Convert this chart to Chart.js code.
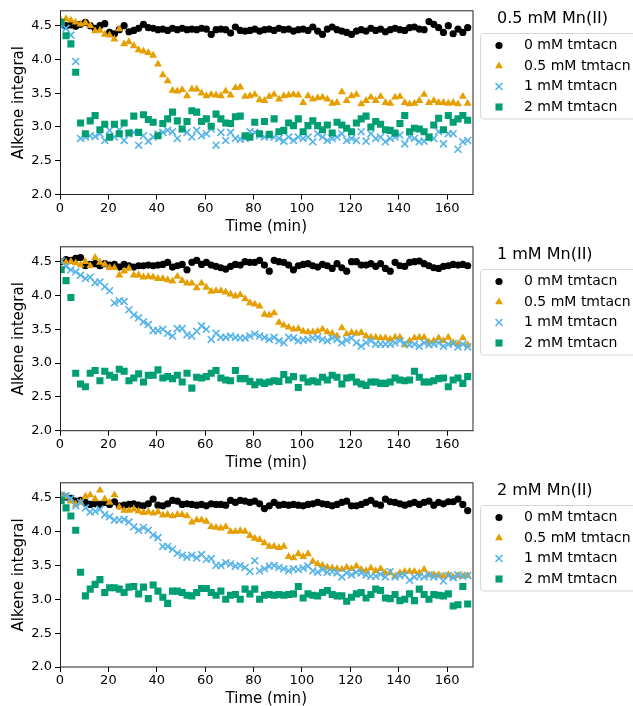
<!DOCTYPE html>
<html>
<head>
<meta charset="utf-8">
<title>Alkene integral</title>
<script src="https://cdn.jsdelivr.net/npm/chart.js@4.4.1/dist/chart.umd.min.js"></script>
<style>
    body { margin: 0; background: #fff; }
    #wrap { position: relative; width: 633px; height: 706px; overflow: hidden; }
    .panel { position: absolute; left: 0; width: 633px; height: 236px; }
</style>
</head>
<body>
<div id="wrap">
    <div class="panel" style="top:0px"><canvas id="chart-mn05" width="633" height="236"></canvas></div>
    <div class="panel" style="top:236px"><canvas id="chart-mn1" width="633" height="236"></canvas></div>
    <div class="panel" style="top:472px"><canvas id="chart-mn2" width="633" height="236"></canvas></div>
</div>
<script>
// waktu pengukuran (min)
const times = [
    0.5, 2.5, 4.5, 6.5, 8.5, 10.5, 12.5, 14.5, 16.5, 18.5,
    20.5, 22.5, 24.5, 26.5, 28.5, 30.5, 32.5, 34.5, 36.5, 38.5,
    40.5, 42.5, 44.5, 46.5, 48.5, 50.5, 52.5, 54.5, 56.5, 58.5,
    60.5, 62.5, 64.5, 66.5, 68.5, 70.5, 72.5, 74.5, 76.5, 78.5,
    80.5, 82.5, 84.5, 86.5, 88.5, 90.5, 92.5, 94.5, 96.5, 98.5,
    100.5, 102.5, 104.5, 106.5, 108.5, 110.5, 112.5, 114.5, 116.5, 118.5,
    120.5, 122.5, 124.5, 126.5, 128.5, 130.5, 132.5, 134.5, 136.5, 138.5,
    140.5, 142.5, 144.5, 146.5, 148.5, 150.5, 152.5, 154.5, 156.5, 158.5,
    160.5, 162.5, 164.5, 166.5, 168.5,
];
const seriesLabels = ["0 mM tmtacn", "0.5 mM tmtacn", "1 mM tmtacn", "2 mM tmtacn"];
const panelTitles = ["0.5 mM Mn(II)", "1 mM Mn(II)", "2 mM Mn(II)"];
const xTicks = [0, 20, 40, 60, 80, 100, 120, 140, 160];
const yTicks = [2.0, 2.5, 3.0, 3.5, 4.0, 4.5];

// 0.5 mM Mn(II)
const mn05_tm0 = [
    4.52, 4.50, 4.51, 4.49, 4.52, 4.55, 4.50, 4.46, 4.50, 4.53,
    4.40, 4.38, 4.44, 4.50, 4.41, 4.43, 4.46, 4.52, 4.47, 4.46,
    4.44, 4.45, 4.43, 4.46, 4.44, 4.46, 4.44, 4.45, 4.44, 4.46,
    4.45, 4.37, 4.44, 4.45, 4.44, 4.39, 4.48, 4.43, 4.42, 4.43,
    4.45, 4.42, 4.44, 4.45, 4.43, 4.46, 4.44, 4.45, 4.42, 4.44,
    4.45, 4.43, 4.48, 4.42, 4.37, 4.45, 4.48, 4.44, 4.42, 4.40,
    4.37, 4.42, 4.44, 4.42, 4.46, 4.43, 4.45, 4.41, 4.44, 4.46,
    4.44, 4.43, 4.47, 4.48, 4.45, 4.44, 4.56, 4.52, 4.47, 4.40,
    4.50, 4.38, 4.45, 4.40, 4.47,
];
const mn05_tm05 = [
    4.57, 4.60, 4.58, 4.55, 4.52, 4.54, 4.50, 4.42, 4.43, 4.37,
    4.36, 4.30, 4.45, 4.23, 4.26, 4.20, 4.14, 4.12, 4.10, 4.06,
    3.93, 3.77, 3.68, 3.54, 3.53, 3.55, 3.46, 3.56, 3.56, 3.50,
    3.46, 3.48, 3.47, 3.46, 3.53, 3.47, 3.58, 3.59, 3.45, 3.46,
    3.48, 3.40, 3.39, 3.45, 3.48, 3.41, 3.46, 3.47, 3.48, 3.47,
    3.36, 3.46, 3.41, 3.43, 3.44, 3.41, 3.35, 3.36, 3.52, 3.39,
    3.46, 3.48, 3.34, 3.39, 3.44, 3.39, 3.45, 3.36, 3.35, 3.44,
    3.45, 3.36, 3.34, 3.35, 3.39, 3.48, 3.36, 3.39, 3.36, 3.36,
    3.35, 3.36, 3.34, 3.45, 3.35,
];
const mn05_tm1 = [
    4.48, 4.46, 4.36, 3.97, 2.83, 2.85, 2.87, 2.86, 2.90, 2.80,
    2.95, 2.85, 2.96, 2.80, 2.90, 2.92, 2.73, 2.87, 2.79, 2.85,
    2.90, 2.92, 2.95, 2.93, 2.83, 2.97, 2.92, 2.85, 2.95, 2.87,
    2.90, 2.97, 2.73, 2.92, 2.80, 2.92, 2.83, 2.82, 2.83, 2.93,
    2.92, 2.87, 2.85, 2.86, 2.85, 2.83, 2.79, 2.85, 2.80, 2.85,
    2.83, 2.85, 2.78, 2.90, 2.85, 2.80, 2.83, 2.85, 2.90, 2.80,
    2.83, 2.80, 2.93, 2.79, 2.90, 2.83, 2.85, 2.78, 2.83, 2.85,
    2.88, 2.75, 2.85, 2.83, 2.78, 2.79, 2.85, 2.83, 2.93, 2.75,
    2.90, 2.90, 2.67, 2.78, 2.80,
];
const mn05_tm2 = [
    4.55, 4.35, 4.23, 3.81, 3.06, 2.90, 3.09, 3.17, 2.96, 3.04,
    2.85, 3.04, 2.90, 3.06, 2.91, 3.16, 2.92, 3.18, 3.11, 3.07,
    2.87, 3.05, 3.12, 3.22, 3.09, 2.97, 3.08, 3.24, 3.22, 3.08,
    3.12, 3.01, 3.19, 3.12, 3.06, 3.05, 3.15, 3.16, 2.87, 2.85,
    3.07, 2.90, 3.08, 2.89, 3.12, 2.93, 2.95, 3.06, 3.02, 3.12,
    2.93, 3.02, 3.09, 3.02, 2.96, 3.03, 2.91, 3.07, 3.03, 2.98,
    2.93, 3.06, 3.12, 3.16, 3.00, 3.08, 3.04, 2.96, 2.95, 2.91,
    3.05, 3.17, 2.93, 2.98, 2.97, 2.93, 2.85, 3.03, 3.13, 2.96,
    3.17, 3.07, 3.12, 3.17, 3.10,
];

// 1 mM Mn(II)
const mn1_tm0 = [
    4.50, 4.53, 4.52, 4.55, 4.56, 4.44, 4.46, 4.47, 4.44, 4.47,
    4.45, 4.46, 4.42, 4.46, 4.44, 4.42, 4.44, 4.44, 4.45, 4.44,
    4.45, 4.46, 4.49, 4.42, 4.44, 4.46, 4.38, 4.49, 4.52, 4.46,
    4.49, 4.45, 4.43, 4.41, 4.39, 4.43, 4.46, 4.45, 4.50, 4.49,
    4.49, 4.52, 4.45, 4.36, 4.52, 4.50, 4.49, 4.45, 4.38, 4.44,
    4.46, 4.47, 4.44, 4.42, 4.46, 4.44, 4.40, 4.47, 4.41, 4.36,
    4.50, 4.50, 4.45, 4.45, 4.47, 4.43, 4.47, 4.40, 4.36, 4.49,
    4.44, 4.43, 4.49, 4.50, 4.51, 4.47, 4.44, 4.41, 4.40, 4.43,
    4.44, 4.46, 4.45, 4.46, 4.44,
];
const mn1_tm05 = [
    4.50, 4.49, 4.50, 4.48, 4.45, 4.50, 4.44, 4.56, 4.49, 4.46,
    4.41, 4.41, 4.30, 4.36, 4.40, 4.30, 4.30, 4.27, 4.28, 4.27,
    4.25, 4.25, 4.23, 4.21, 4.28, 4.22, 4.18, 4.18, 4.11, 4.18,
    4.12, 4.06, 4.07, 4.07, 4.05, 4.02, 3.99, 4.01, 3.95, 3.89,
    3.87, 3.84, 3.72, 3.71, 3.74, 3.60, 3.56, 3.53, 3.50, 3.51,
    3.47, 3.46, 3.46, 3.47, 3.50, 3.46, 3.44, 3.40, 3.52, 3.43,
    3.45, 3.44, 3.45, 3.40, 3.38, 3.38, 3.37, 3.37, 3.35, 3.38,
    3.38, 3.27, 3.33, 3.37, 3.38, 3.38, 3.31, 3.33, 3.37, 3.33,
    3.38, 3.30, 3.28, 3.37, 3.27,
];
const mn1_tm1 = [
    4.51, 4.43, 4.38, 4.35, 4.30, 4.25, 4.27, 4.19, 4.20, 4.13,
    4.07, 3.89, 3.92, 3.91, 3.79, 3.71, 3.67, 3.61, 3.57, 3.48,
    3.48, 3.50, 3.44, 3.40, 3.51, 3.51, 3.42, 3.40, 3.47, 3.55,
    3.50, 3.35, 3.44, 3.38, 3.38, 3.40, 3.38, 3.37, 3.37, 3.40,
    3.43, 3.40, 3.38, 3.35, 3.38, 3.33, 3.30, 3.38, 3.37, 3.33,
    3.34, 3.35, 3.37, 3.38, 3.35, 3.33, 3.37, 3.35, 3.30, 3.34,
    3.37, 3.30, 3.25, 3.30, 3.33, 3.28, 3.28, 3.28, 3.28, 3.30,
    3.33, 3.29, 3.27, 3.28, 3.25, 3.30, 3.27, 3.28, 3.30, 3.25,
    3.28, 3.29, 3.24, 3.28, 3.24,
];
const mn1_tm2 = [
    4.38, 4.22, 3.97, 2.85, 2.69, 2.65, 2.85, 2.89, 2.74, 2.88,
    2.82, 2.79, 2.91, 2.88, 2.74, 2.78, 2.84, 2.72, 2.82, 2.82,
    2.90, 2.78, 2.80, 2.77, 2.82, 2.72, 2.85, 2.63, 2.79, 2.78,
    2.80, 2.85, 2.89, 2.78, 2.75, 2.74, 2.89, 2.77, 2.77, 2.73,
    2.68, 2.72, 2.70, 2.72, 2.74, 2.73, 2.83, 2.75, 2.80, 2.64,
    2.78, 2.72, 2.74, 2.72, 2.79, 2.75, 2.82, 2.79, 2.69, 2.78,
    2.79, 2.72, 2.69, 2.67, 2.72, 2.72, 2.70, 2.70, 2.72, 2.78,
    2.75, 2.74, 2.75, 2.88, 2.79, 2.72, 2.72, 2.74, 2.77, 2.78,
    2.65, 2.75, 2.78, 2.70, 2.80,
];

// 2 mM Mn(II)
const mn2_tm0 = [
    4.53, 4.51, 4.49, 4.45, 4.46, 4.43, 4.40, 4.41, 4.40, 4.43,
    4.40, 4.44, 4.38, 4.39, 4.40, 4.41, 4.39, 4.38, 4.41, 4.48,
    4.39, 4.38, 4.41, 4.46, 4.45, 4.40, 4.41, 4.40, 4.39, 4.40,
    4.38, 4.41, 4.40, 4.40, 4.39, 4.46, 4.43, 4.46, 4.45, 4.43,
    4.45, 4.41, 4.34, 4.38, 4.43, 4.39, 4.40, 4.39, 4.40, 4.39,
    4.38, 4.40, 4.41, 4.43, 4.41, 4.40, 4.38, 4.40, 4.43, 4.45,
    4.38, 4.38, 4.40, 4.43, 4.46, 4.41, 4.39, 4.48, 4.44, 4.43,
    4.41, 4.39, 4.41, 4.43, 4.40, 4.43, 4.45, 4.39, 4.43, 4.41,
    4.44, 4.44, 4.48, 4.40, 4.31,
];
const mn2_tm05 = [
    4.54, 4.51, 4.45, 4.40, 4.43, 4.52, 4.54, 4.48, 4.61, 4.48,
    4.43, 4.54, 4.36, 4.31, 4.31, 4.33, 4.30, 4.28, 4.29, 4.27,
    4.29, 4.24, 4.25, 4.23, 4.25, 4.25, 4.23, 4.14, 4.17, 4.17,
    4.15, 4.07, 4.06, 4.05, 4.07, 4.00, 4.00, 4.01, 4.00, 3.94,
    3.90, 3.88, 3.83, 3.78, 3.78, 3.76, 3.78, 3.63, 3.61, 3.67,
    3.63, 3.67, 3.56, 3.52, 3.50, 3.47, 3.46, 3.45, 3.44, 3.47,
    3.45, 3.49, 3.44, 3.42, 3.46, 3.42, 3.45, 3.39, 3.39, 3.34,
    3.39, 3.41, 3.41, 3.41, 3.39, 3.44, 3.36, 3.36, 3.36, 3.34,
    3.36, 3.33, 3.35, 3.34, 3.35,
];
const mn2_tm1 = [
    4.54, 4.53, 4.49, 4.38, 4.43, 4.35, 4.29, 4.30, 4.33, 4.25,
    4.22, 4.17, 4.17, 4.18, 4.14, 4.07, 4.02, 4.06, 4.02, 3.95,
    3.91, 3.78, 3.78, 3.74, 3.68, 3.65, 3.62, 3.65, 3.61, 3.66,
    3.59, 3.60, 3.50, 3.50, 3.54, 3.52, 3.49, 3.50, 3.47, 3.41,
    3.57, 3.42, 3.45, 3.49, 3.50, 3.47, 3.45, 3.42, 3.45, 3.44,
    3.46, 3.49, 3.42, 3.40, 3.44, 3.40, 3.41, 3.39, 3.33, 3.39,
    3.36, 3.40, 3.39, 3.36, 3.34, 3.34, 3.37, 3.33, 3.41, 3.33,
    3.35, 3.36, 3.28, 3.33, 3.34, 3.33, 3.36, 3.33, 3.34, 3.27,
    3.35, 3.32, 3.36, 3.34, 3.35,
];
const mn2_tm2 = [
    4.46, 4.35, 4.23, 4.02, 3.40, 3.05, 3.15, 3.22, 3.29, 3.10,
    3.17, 3.17, 3.15, 3.10, 3.18, 3.19, 3.08, 3.18, 3.01, 3.21,
    3.12, 3.03, 2.94, 3.12, 3.12, 3.10, 3.06, 3.05, 3.10, 3.16,
    3.16, 3.10, 3.06, 3.12, 3.00, 3.06, 3.07, 3.00, 3.15, 3.08,
    3.15, 3.00, 3.06, 3.07, 3.06, 3.07, 3.06, 3.07, 3.08, 3.19,
    3.02, 3.08, 3.06, 3.05, 3.10, 3.13, 3.07, 3.05, 3.05, 2.97,
    3.03, 3.08, 3.10, 3.02, 3.07, 3.15, 3.13, 3.02, 3.01, 3.07,
    2.98, 3.00, 3.08, 2.98, 3.15, 3.07, 3.00, 3.07, 3.06, 3.05,
    3.08, 2.90, 2.92, 3.19, 2.93,
];

const colors = ["#000000", "#E69F00", "#56B4E9", "#009E73"];
const markers = [
    { style: "circle", radius: 3.6, border: 0 },
    { style: "triangle", radius: 4.6, border: 0 },
    { style: "crossRot", radius: 4.9, border: 1.6 },
    { style: "rect", radius: 5.0, border: 0 },
];
const fontFamily = "'DejaVu Sans', 'Liberation Sans', sans-serif";

Chart.defaults.font.family = fontFamily;
Chart.defaults.color = "#000";

function gambarMarker(ctx, i, x, y) {
    const m = markers[i];
    const r = m.radius;
    ctx.fillStyle = colors[i];
    ctx.strokeStyle = colors[i];
    ctx.lineWidth = m.border;
    ctx.beginPath();
    if (m.style === "circle") {
        ctx.arc(x, y, r, 0, Math.PI * 2);
        ctx.fill();
    } else if (m.style === "triangle") {
        ctx.moveTo(x, y - r);
        ctx.lineTo(x + r * Math.sin(Math.PI * 2 / 3), y + r / 2);
        ctx.lineTo(x - r * Math.sin(Math.PI * 2 / 3), y + r / 2);
        ctx.closePath();
        ctx.fill();
    } else if (m.style === "crossRot") {
        const d = r * Math.SQRT1_2;
        ctx.moveTo(x - d, y - d);
        ctx.lineTo(x + d, y + d);
        ctx.moveTo(x + d, y - d);
        ctx.lineTo(x - d, y + d);
        ctx.stroke();
    } else {
        const s = r * Math.SQRT1_2;
        ctx.rect(x - s, y - s, 2 * s, 2 * s);
        ctx.fill();
    }
}

// kotak legenda + judul di sebelah kanan
const legendBox = {
    id: "legendBox",
    afterDraw(chart, args, opts) {
        const ctx = chart.ctx;
        ctx.save();
        ctx.fillStyle = "#000";
        ctx.textAlign = "left";
        ctx.textBaseline = "middle";
        ctx.font = "16px " + fontFamily;
        ctx.fillText(opts.title, 497, 19);

        // frame
        const x0 = 480.5, y0 = 33.5, w = 220, h = 85.5, rad = 3;
        ctx.beginPath();
        ctx.moveTo(x0 + rad, y0);
        ctx.lineTo(x0 + w, y0);
        ctx.lineTo(x0 + w, y0 + h);
        ctx.lineTo(x0 + rad, y0 + h);
        ctx.arcTo(x0, y0 + h, x0, y0 + h - rad, rad);
        ctx.lineTo(x0, y0 + rad);
        ctx.arcTo(x0, y0, x0 + rad, y0, rad);
        ctx.closePath();
        ctx.fillStyle = "rgba(255,255,255,0.8)";
        ctx.fill();
        ctx.strokeStyle = "#d6d6d6";
        ctx.lineWidth = 1;
        ctx.stroke();

        ctx.font = "14px " + fontFamily;
        seriesLabels.forEach(function (lbl, i) {
            const yy = 45.5 + i * 20.5;
            gambarMarker(ctx, i, 499, yy);
            ctx.fillStyle = "#000";
            ctx.fillText(lbl, 524, yy);
        });
        ctx.restore();
    },
};

// garis tepi plot (4 sisi)
const spines = {
    id: "spines",
    afterDatasetsDraw(chart) {
        const a = chart.chartArea;
        const ctx = chart.ctx;
        ctx.save();
        ctx.strokeStyle = "#222";
        ctx.lineWidth = 1;
        ctx.strokeRect(a.left + 0.5, a.top, a.right - a.left, a.bottom - a.top);
        ctx.restore();
    },
};

function tampilPanel(canvasId, title, seriesData, padTop, bottom) {
    const datasets = seriesData.map(function (vals, i) {
        return {
            label: seriesLabels[i],
            data: times.map(function (t, j) {
                return { x: t, y: vals[j] };
            }),
            pointStyle: markers[i].style,
            pointRadius: markers[i].radius,
            pointHoverRadius: markers[i].radius,
            pointBorderWidth: markers[i].border,
            backgroundColor: colors[i],
            borderColor: colors[i],
            order: 4 - i,
            clip: 0,
        };
    });

    return new Chart(document.getElementById(canvasId), {
        type: "scatter",
        data: { datasets: datasets },
        options: {
            responsive: false,
            animation: false,
            events: [],
            layout: { padding: { left: 0, right: 160.5, top: padTop, bottom: 0 } },
            plugins: {
                legend: { display: false },
                tooltip: { enabled: false },
                legendBox: { title: title },
            },
            scales: {
                x: {
                    type: "linear",
                    min: 0,
                    max: 170.5,
                    afterBuildTicks: function (s) {
                        s.ticks = xTicks.map(function (v) { return { value: v }; });
                    },
                    afterFit: function (s) {
                        s.height = 236 - bottom;
                    },
                    border: { display: false },
                    grid: { drawOnChartArea: false, drawTicks: true, tickLength: 5, tickColor: "#000", tickWidth: 1 },
                    ticks: { font: { size: 13 }, color: "#000", padding: 1, maxRotation: 0 },
                    title: { display: true, text: "Time (min)", font: { size: 15 }, color: "#000", padding: { top: 0, bottom: 0 } },
                },
                y: {
                    type: "linear",
                    min: 2.0,
                    max: 4.72,
                    afterBuildTicks: function (s) {
                        s.ticks = yTicks.map(function (v) { return { value: v }; });
                    },
                    afterFit: function (s) {
                        s.width = 60;
                    },
                    border: { display: false },
                    grid: { drawOnChartArea: false, drawTicks: true, tickLength: 5, tickColor: "#000", tickWidth: 1 },
                    ticks: {
                        font: { size: 13 },
                        color: "#000",
                        padding: 3,
                        callback: function (v) { return Number(v).toFixed(1); },
                    },
                    title: { display: true, text: "Alkene integral", font: { size: 15 }, color: "#000", padding: { top: 10, bottom: 0 } },
                },
            },
        },
        plugins: [legendBox, spines],
    });
}

tampilPanel("chart-mn05", panelTitles[0], [mn05_tm0, mn05_tm05, mn05_tm1, mn05_tm2], 9, 194.5);
tampilPanel("chart-mn1", panelTitles[1], [mn1_tm0, mn1_tm05, mn1_tm1, mn1_tm2], 9, 194.7);
tampilPanel("chart-mn2", panelTitles[2], [mn2_tm0, mn2_tm05, mn2_tm1, mn2_tm2], 9.7, 195);
</script>
</body>
</html>
